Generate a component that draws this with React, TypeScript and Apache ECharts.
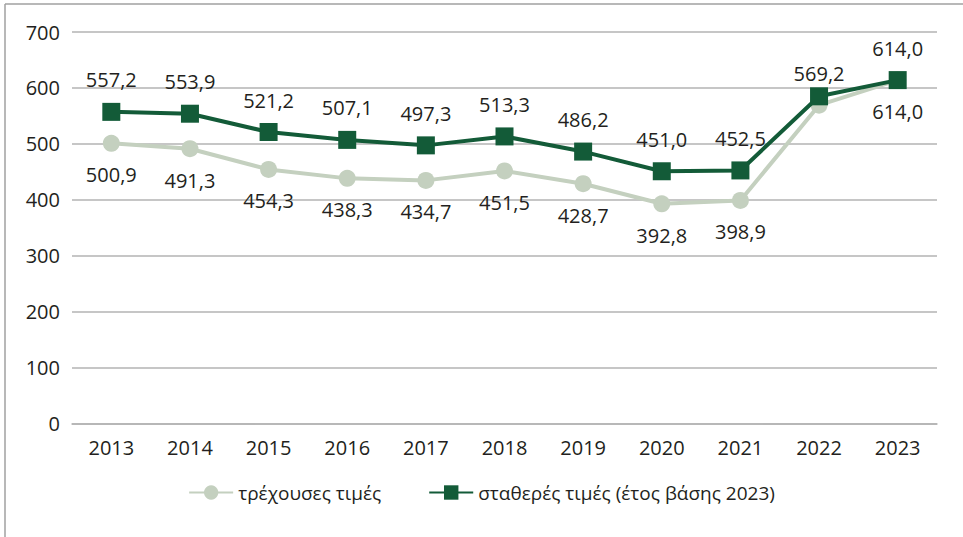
import React, { useEffect, useRef } from "react";
import * as echarts from "echarts";

const years = ["2013", "2014", "2015", "2016", "2017", "2018", "2019", "2020", "2021", "2022", "2023"];
const currentPrices = [500.9, 491.3, 454.3, 438.3, 434.7, 451.5, 428.7, 392.8, 398.9, 569.2, 614.0];
const constantPrices = [557.2, 553.9, 521.2, 507.1, 497.3, 513.3, 486.2, 451.0, 452.5, 585.0, 614.0];
const currentName = "τρέχουσες τιμές";
const constantName = "σταθερές τιμές (έτος βάσης 2023)";
// label placement per point (current prices)
const currentLabelPos = ["bottom", "bottom", "bottom", "bottom", "bottom", "bottom", "bottom", "bottom", "bottom", "top", "bottom"];
const constantLabelShow = [true, true, true, true, true, true, true, true, true, false, true];

const FONT = "'Open Sans', sans-serif";
const TEXT = "#231f20";
const LIGHT = "#c4d0bf";
const DARK = "#135b38";

const fmt = (v: number) => v.toFixed(1).replace(".", ",");

export default function App() {
  const ref = useRef<HTMLDivElement>(null);
  useEffect(() => {
    if (!ref.current) return;
    const chart = echarts.init(ref.current, null, { renderer: "svg" });
    const labelBase = { color: TEXT, fontFamily: FONT, fontSize: 20, formatter: (p: any) => fmt(p.value) };
    chart.setOption({
      animation: false,
      backgroundColor: "#ffffff",
      textStyle: { fontFamily: FONT },
      grid: { left: 72, right: 26, top: 32, bottom: 113.5 },
      graphic: [
        { type: "line", shape: { x1: 5, y1: 4, x2: 963, y2: 4 }, style: { stroke: "#a0a0a0", lineWidth: 1.5 } },
        { type: "line", shape: { x1: 5, y1: 4, x2: 5, y2: 537 }, style: { stroke: "#a0a0a0", lineWidth: 1.5 } },
      ],
      legend: {
        bottom: 30,
        left: "center",
        itemWidth: 44,
        itemHeight: 18,
        itemGap: 47,
        textStyle: { color: TEXT, fontFamily: FONT, fontSize: 19 },
        data: [currentName, constantName],
      },
      xAxis: {
        type: "category",
        data: years,
        boundaryGap: true,
        axisLine: { lineStyle: { color: "#b3b3b3", width: 1.5 } },
        axisTick: { show: false },
        axisLabel: { color: TEXT, fontFamily: FONT, fontSize: 20, margin: 14 },
      },
      yAxis: {
        type: "value",
        min: 0,
        max: 700,
        interval: 100,
        axisLine: { show: false },
        axisTick: { show: false },
        axisLabel: { color: TEXT, fontFamily: FONT, fontSize: 20, margin: 12 },
        splitLine: { lineStyle: { color: "#b3b3b3", width: 1.5 } },
      },
      series: [
        {
          name: currentName,
          type: "line",
          data: currentPrices.map((v, i) => ({
            value: v,
            label: { show: true, position: currentLabelPos[i], distance: 13, ...labelBase },
          })),
          symbol: "circle",
          symbolSize: 17,
          lineStyle: { color: LIGHT, width: 4 },
          itemStyle: { color: LIGHT },
          z: 2,
        },
        {
          name: constantName,
          type: "line",
          data: constantPrices.map((v, i) => ({
            value: v,
            label: { show: constantLabelShow[i], position: "top", distance: 13, ...labelBase },
          })),
          symbol: "rect",
          symbolSize: 18,
          lineStyle: { color: DARK, width: 4 },
          itemStyle: { color: DARK },
          z: 3,
        },
      ],
    });
    return () => chart.dispose();
  }, []);
  return <div ref={ref} style={{ width: 963, height: 537, position: "absolute", left: 0, top: 0 }} />;
}
